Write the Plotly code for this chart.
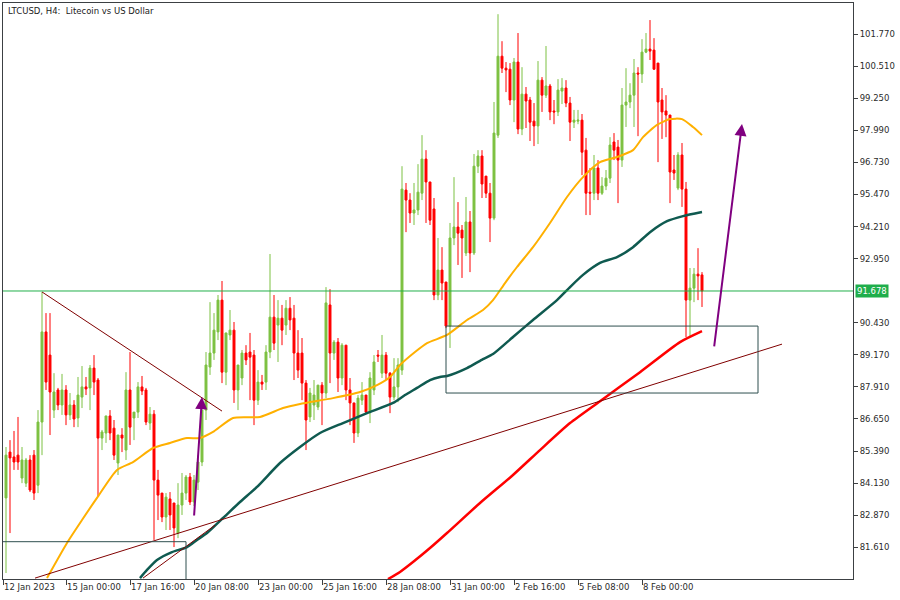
import plotly.graph_objects as go

# ---------------- data ----------------
bar_index = list(range(1, 176))

open_ = [83.55, 85.35, 85.16, 85.23, 84.33, 84.13, 85.04, 85.23, 84.05, 86.53,
         90.07, 89.16, 87.00, 87.79, 87.20, 87.79, 86.81, 87.20, 86.69, 87.51,
         87.91, 87.87, 88.65, 88.18, 85.90, 86.10, 86.77, 86.29, 84.92, 86.02,
         85.43, 87.79, 86.69, 86.92, 87.91, 87.79, 86.49, 86.84, 84.25, 83.74,
         82.80, 83.51, 83.35, 82.17, 83.27, 83.74, 84.37, 83.39, 84.17, 84.96,
         87.00, 88.69, 89.24, 90.07, 91.32, 88.49, 89.95, 90.14, 87.79, 88.26,
         89.24, 89.28, 89.16, 87.39, 88.10, 88.10, 89.28, 90.65, 90.34, 90.61,
         90.34, 91.00, 90.61, 89.24, 89.24, 88.06, 86.73, 87.20, 87.12, 87.98,
         87.67, 91.13, 89.24, 89.67, 88.26, 89.55, 87.79, 87.28, 86.10, 87.39,
         87.59, 86.92, 87.79, 89.16, 88.45, 89.16, 88.45, 87.51, 87.91, 88.57,
         95.64, 95.25, 94.74, 94.86, 95.52, 96.86, 95.96, 94.90, 91.52, 92.50,
         92.03, 90.30, 93.76, 94.19, 94.07, 93.17, 94.39, 93.17, 96.58, 96.98,
         96.19, 95.52, 94.54, 97.80, 100.90, 100.43, 100.39, 99.18, 100.67, 98.04,
         99.41, 99.18, 98.35, 98.16, 99.96, 99.37, 99.73, 98.75, 98.71, 99.53,
         99.65, 99.06, 98.31, 98.35, 98.39, 97.21, 95.56, 95.52, 96.51, 95.52,
         95.80, 96.11, 97.53, 97.33, 96.82, 98.98, 99.10, 99.37, 100.24, 100.20,
         101.06, 101.18, 101.14, 100.63, 99.18, 98.75, 98.59, 96.43, 95.72, 97.02,
         95.68, 91.32, 91.79, 92.34, 92.31]

high = [85.55, 85.82, 86.18, 86.73, 85.55, 85.12, 85.23, 85.43, 87.00, 91.64,
        90.81, 90.81, 88.45, 87.87, 88.42, 87.98, 87.67, 87.39, 88.30, 88.73,
        88.30, 88.77, 89.16, 88.26, 86.22, 86.77, 87.00, 86.61, 86.02, 86.29,
        88.49, 89.28, 86.92, 88.10, 88.34, 87.87, 87.12, 87.00, 84.65, 83.74,
        83.74, 83.78, 83.35, 84.13, 84.53, 84.45, 84.53, 84.45, 85.23, 86.61,
        89.28, 91.24, 90.81, 91.52, 92.07, 89.95, 90.93, 90.46, 88.77, 89.36,
        89.55, 90.03, 89.36, 88.57, 88.38, 89.55, 93.13, 91.52, 91.32, 91.13,
        91.32, 91.44, 91.13, 90.14, 89.83, 88.18, 87.87, 88.18, 87.98, 88.10,
        91.83, 91.75, 89.75, 89.83, 89.63, 89.55, 88.26, 87.28, 87.59, 88.10,
        87.59, 88.49, 89.16, 89.36, 89.95, 89.28, 88.49, 89.04, 89.04, 96.58,
        95.92, 95.52, 95.92, 96.66, 97.80, 97.21, 95.96, 95.33, 93.76, 93.40,
        92.03, 94.35, 96.15, 95.17, 94.27, 95.37, 94.82, 97.06, 97.21, 97.21,
        96.19, 95.92, 99.10, 102.55, 101.49, 100.67, 100.63, 100.83, 101.81, 100.47,
        99.69, 99.30, 99.06, 100.71, 100.08, 101.30, 99.81, 99.18, 100.00, 100.04,
        99.96, 99.30, 98.79, 98.79, 98.63, 97.69, 96.51, 97.02, 96.82, 96.15,
        96.43, 97.72, 97.88, 97.61, 99.65, 100.43, 99.84, 100.79, 100.47, 101.57,
        101.81, 102.32, 101.61, 100.63, 99.65, 99.37, 98.59, 97.02, 97.13, 97.49,
        95.96, 92.58, 92.58, 93.36, 92.42]

low = [80.60, 82.17, 84.65, 84.65, 84.13, 83.98, 83.78, 83.47, 83.74, 85.23,
       87.79, 86.02, 86.69, 87.00, 86.81, 86.41, 86.61, 86.33, 86.33, 87.08,
       87.59, 87.00, 87.59, 83.58, 85.43, 85.71, 85.82, 85.04, 84.45, 85.35,
       85.04, 85.63, 85.82, 86.69, 87.59, 86.41, 86.22, 81.90, 82.68, 82.60,
       82.29, 82.29, 81.62, 81.97, 82.88, 83.47, 83.27, 83.23, 83.86, 84.80,
       86.61, 88.38, 88.97, 89.75, 88.06, 87.98, 89.75, 87.28, 87.00, 87.98,
       88.77, 87.39, 86.41, 87.20, 87.79, 87.79, 89.04, 89.36, 88.89, 89.55,
       89.95, 90.14, 88.18, 88.26, 87.39, 85.43, 86.53, 86.61, 87.00, 86.41,
       87.47, 88.06, 88.97, 87.71, 87.98, 87.39, 86.41, 85.71, 85.94, 87.20,
       86.88, 86.49, 87.59, 88.89, 88.26, 88.18, 86.88, 87.39, 87.31, 88.38,
       93.99, 94.35, 94.27, 94.66, 95.25, 94.35, 94.27, 91.32, 91.32, 91.32,
       90.22, 89.44, 93.48, 92.70, 92.19, 93.05, 92.42, 93.09, 96.31, 95.33,
       95.33, 93.60, 94.46, 97.69, 100.24, 99.49, 98.98, 98.31, 97.84, 97.80,
       98.08, 97.57, 97.37, 97.45, 98.71, 99.26, 98.39, 98.23, 98.55, 99.02,
       98.90, 97.57, 98.08, 98.23, 96.23, 94.66, 94.66, 95.25, 95.25, 95.45,
       95.64, 95.92, 96.82, 95.13, 96.55, 98.12, 98.86, 98.12, 97.76, 99.85,
       101.02, 100.75, 100.36, 96.74, 97.65, 97.72, 95.13, 96.04, 95.64, 94.98,
       89.87, 89.87, 91.24, 91.32, 91.05]

close = [85.23, 85.12, 84.96, 84.96, 85.04, 85.04, 83.86, 83.74, 86.53, 90.07,
         88.10, 87.71, 87.71, 87.20, 87.79, 86.81, 87.20, 86.65, 87.59, 87.91,
         87.83, 88.65, 88.10, 85.90, 86.14, 86.77, 86.10, 85.23, 86.02, 85.90,
         87.79, 86.33, 86.92, 87.91, 87.75, 86.53, 86.84, 84.25, 83.66, 82.80,
         83.58, 82.88, 82.37, 83.27, 83.74, 84.37, 83.39, 84.25, 84.96, 87.00,
         88.77, 89.24, 90.14, 91.32, 88.49, 90.03, 90.14, 87.79, 88.77, 89.24,
         88.97, 89.08, 87.39, 88.10, 88.02, 89.28, 90.65, 89.63, 90.61, 90.14,
         91.00, 90.54, 89.24, 88.57, 88.06, 86.61, 87.67, 87.59, 87.98, 87.67,
         91.21, 89.24, 89.67, 88.26, 89.55, 87.79, 87.28, 86.10, 87.47, 87.59,
         86.92, 88.26, 88.89, 89.12, 89.16, 88.45, 87.51, 87.91, 88.77, 95.68,
         95.25, 94.74, 94.86, 95.56, 96.86, 95.96, 94.46, 91.52, 92.50, 91.99,
         90.30, 93.76, 94.19, 93.95, 93.76, 94.39, 93.17, 96.58, 96.98, 95.88,
         95.52, 94.54, 97.88, 100.90, 100.43, 100.36, 99.18, 100.67, 98.04, 99.41,
         99.14, 98.31, 98.16, 99.96, 99.37, 99.73, 98.71, 98.71, 99.57, 99.65,
         99.06, 98.31, 98.39, 98.39, 97.13, 95.52, 95.52, 96.51, 95.52, 95.80,
         96.11, 97.41, 97.21, 96.82, 98.98, 99.10, 99.37, 100.24, 100.20, 101.06,
         101.18, 101.10, 100.39, 99.10, 98.71, 98.59, 96.35, 96.31, 97.02, 95.68,
         91.32, 91.79, 92.34, 92.27, 91.678]

# moving averages (bar index, price)
ma_orange_x = [11.25, 16.25, 20, 23.75, 28.75, 32.75, 37.75, 42, 46.25, 49.5, 52.75, 57.75,
               64.5, 70.25, 74.5, 82.75, 89.5, 93.75, 97, 99.5, 103.25, 106.25, 111.25,
               116.25, 120.25, 122.75, 125.75, 128.75, 132.75, 137, 141.25, 145.25, 149.5,
               153.75, 157.75, 160.25, 163.75, 167, 170, 172.75, 175]
ma_orange_y = [80.40, 81.78, 82.68, 83.55, 84.65, 84.96, 85.51, 85.71, 85.90, 85.90, 86.14, 86.69,
               86.73, 87.08, 87.24, 87.47, 87.71, 87.98, 88.30, 88.77, 89.28, 89.63, 89.95,
               90.54, 90.93, 91.32, 91.99, 92.62, 93.40, 94.35, 95.37, 96.15, 96.74,
               96.94, 97.21, 97.72, 98.20, 98.43, 98.43, 98.12, 97.80]

ma_teal_x = [34.5, 36.25, 38.75, 42.5, 46.25, 48.75, 51.25, 55.25, 59.5, 63.75, 69.5, 74.5,
             79.5, 85.25, 91.25, 97.75, 100.75, 103.75, 107, 109.5, 111.25, 116.25, 120.25,
             122.75, 127.75, 132.75, 138.75, 142, 145.25, 149.5, 153.75, 157.75, 162,
             166.25, 170.25, 175]
ma_teal_y = [80.40, 80.72, 81.11, 81.42, 81.62, 81.90, 82.17, 82.76, 83.39, 83.98, 84.92, 85.55,
             86.10, 86.49, 86.88, 87.28, 87.59, 87.87, 88.18, 88.30, 88.34, 88.65, 89.00,
             89.20, 89.87, 90.54, 91.32, 91.83, 92.31, 92.78, 93.01, 93.40, 93.99,
             94.42, 94.62, 94.78]

ma_red_x = [96.5, 99.5, 102.75, 107, 111.25, 119.5, 127.75, 134.5, 142, 149.5, 159.5, 169.5, 175]
ma_red_y = [80.36, 80.64, 81.03, 81.58, 82.17, 83.35, 84.45, 85.43, 86.49, 87.35, 88.49, 89.67, 90.10]

# drawing objects (bar index, price)
trend_down_x = [10, 55]
trend_down_y = [91.64, 86.96]
trend_up_x = [8.25, 195]
trend_up_y = [80.40, 89.59]
trend_short_x = [35.25, 53.25]
trend_short_y = [80.40, 82.48]

zone_left = {"x0": -2, "x1": 46, "y0": 80.0, "y1": 81.83}
zone_right = {"x0": 111, "x1": 189, "y0": 87.67, "y1": 90.30}

arrows = [  # (tail_x, tail_y, tip_x, tip_y)
    (48, 82.80, 50, 87.51),
    (178, 89.44, 185, 98.24),
]

current_price = 91.678

x_tick_vals = [0.25, 16, 32, 48, 64, 80, 96, 112, 128, 144, 160]
x_tick_text = ["12 Jan 2023", "15 Jan 00:00", "17 Jan 16:00", "20 Jan 08:00", "23 Jan 00:00",
               "25 Jan 16:00", "28 Jan 08:00", "31 Jan 00:00", "2 Feb 16:00", "5 Feb 08:00",
               "8 Feb 00:00"]
y_tick_vals = [81.61, 82.87, 84.13, 85.39, 86.65, 87.91, 89.17, 90.43,
               92.95, 94.21, 95.47, 96.73, 97.99, 99.25, 100.51, 101.77]

title_text = "LTCUSD, H4:  Litecoin vs US Dollar"

# ---------------- styles ----------------
BULL = "#7dc142"
BEAR = "#ff0000"
FONT = "DejaVu Sans"
TXT = "#2b2b2b"
FRAME = "#3c4043"

fig = go.Figure()

fig.add_trace(go.Candlestick(
    x=bar_index, open=open_, high=high, low=low, close=close,
    increasing=dict(line=dict(color=BULL, width=1), fillcolor=BULL),
    decreasing=dict(line=dict(color=BEAR, width=1), fillcolor=BEAR),
    whiskerwidth=0, showlegend=False, hoverinfo="skip",
))

for xs, ys, col, w in [(ma_orange_x, ma_orange_y, "#ffb000", 2),
                       (ma_teal_x, ma_teal_y, "#0f5a50", 2.5),
                       (ma_red_x, ma_red_y, "#ff0000", 2.5)]:
    fig.add_trace(go.Scatter(x=xs, y=ys, mode="lines",
                             line=dict(color=col, width=w, shape="spline", smoothing=0.6),
                             showlegend=False, hoverinfo="skip"))

for xs, ys in [(trend_down_x, trend_down_y), (trend_up_x, trend_up_y),
               (trend_short_x, trend_short_y)]:
    fig.add_trace(go.Scatter(x=xs, y=ys, mode="lines", line=dict(color="#800000", width=1),
                             showlegend=False, hoverinfo="skip"))

for z in (zone_left, zone_right):
    fig.add_shape(type="rect", xref="x", yref="y", x0=z["x0"], x1=z["x1"], y0=z["y0"], y1=z["y1"],
                  line=dict(color="#2f4f4f", width=1), fillcolor="rgba(0,0,0,0)")

fig.add_shape(type="line", xref="paper", yref="y", x0=0, x1=1, y0=current_price, y1=current_price,
              line=dict(color="#22b04a", width=1))

for tx, ty, hx, hy in arrows:
    fig.add_annotation(x=hx, y=hy, ax=tx, ay=ty, xref="x", yref="y", axref="x", ayref="y",
                       showarrow=True, arrowhead=2, arrowsize=1.2, arrowwidth=2,
                       arrowcolor="#800080", text="")

fig.add_annotation(x=0, y=1, xref="paper", yref="paper", xanchor="left", yanchor="top",
                   xshift=3, yshift=-1, text=title_text, showarrow=False,
                   font=dict(family=FONT, size=8.5, color="#1a1a1a"))

fig.add_annotation(x=1, y=current_price, xref="paper", yref="y", xanchor="left", yanchor="middle",
                   xshift=2, text=f"{current_price:.3f}", showarrow=False, bgcolor="#1fae4b",
                   borderpad=1, font=dict(family=FONT, size=8.5, color="white"))

fig.update_layout(
    width=900, height=600,
    margin=dict(l=3, r=47, t=3, b=21),
    paper_bgcolor="white", plot_bgcolor="white",
    boxgap=0.3,
    xaxis=dict(range=[0.25, 212.75], rangeslider=dict(visible=False), showgrid=False,
               zeroline=False, showline=True, mirror=True, linecolor=FRAME, linewidth=1,
               tickmode="array", tickvals=x_tick_vals, ticktext=x_tick_text,
               ticks="outside", ticklen=5, tickcolor=FRAME, ticklabelposition="outside right",
               tickfont=dict(family=FONT, size=8.5, color=TXT), automargin=False),
    yaxis=dict(range=[80.365, 102.99], side="right", showgrid=False, zeroline=False,
               showline=True, mirror=True, linecolor=FRAME, linewidth=1,
               tickmode="array", tickvals=y_tick_vals,
               ticktext=[f"{v:.3f}" for v in y_tick_vals],
               ticks="outside", ticklen=4, tickcolor=FRAME,
               tickfont=dict(family=FONT, size=8.5, color=TXT), automargin=False),
)

fig.write_html("out.html", config={"displayModeBar": False},
               post_script="document.body.style.margin='0';document.body.style.padding='0';")
